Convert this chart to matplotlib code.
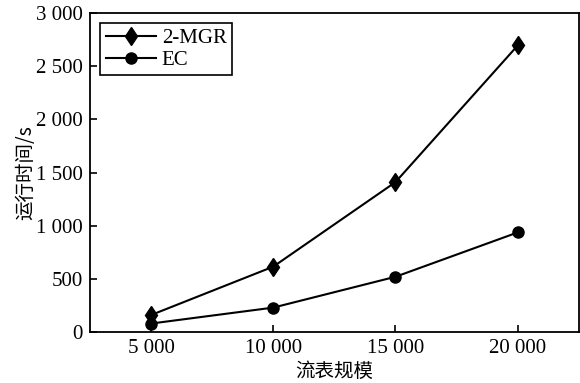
import matplotlib
matplotlib.use("Agg")
import matplotlib.pyplot as plt
from matplotlib.ticker import FuncFormatter

# Data
flow_sizes = [5000, 10000, 15000, 20000]
mgr_time = [160, 615, 1410, 2695]
ec_time = [80, 230, 520, 937]

x_ticks = [5000, 10000, 15000, 20000]
y_ticks = [0, 500, 1000, 1500, 2000, 2500, 3000]

plt.rcParams['font.family'] = ['Liberation Serif', 'Noto Sans CJK SC']


def thousands(v, pos):
    v = int(round(v))
    if v < 1000:
        return str(v)
    return f"{v // 1000}\u2005{v % 1000:03d}"


fig = plt.figure(figsize=(5.8, 3.83), dpi=100)
ax = fig.add_axes([0.155, 0.133, 0.843, 0.833])

ax.plot(flow_sizes, mgr_time, color='black', lw=1.5, marker='d',
        markersize=9.5, label='2-MGR')
ax.plot(flow_sizes, ec_time, color='black', lw=1.5, marker='o',
        markersize=8, label='EC')

ax.set_xlim(2500, 22500)
ax.set_ylim(0, 3000)
ax.set_xticks(x_ticks)
ax.set_yticks(y_ticks)
ax.xaxis.set_major_formatter(FuncFormatter(thousands))
ax.yaxis.set_major_formatter(FuncFormatter(thousands))
ax.tick_params(direction='in', length=5, width=1.2, labelsize=15, pad=5)
for s in ax.spines.values():
    s.set_linewidth(1.3)

ax.set_xlabel('流表规模', family=['Noto Sans CJK SC'], fontsize=14, labelpad=2)
ax.set_ylabel('运行时间/s', family=['Noto Sans CJK SC'], fontsize=14, labelpad=0)

leg = ax.legend(loc='upper left', fontsize=15, fancybox=False, edgecolor='black',
                framealpha=1, borderpad=0.25, handlelength=2.4, labelspacing=0.1,
                handletextpad=0.3, borderaxespad=0.5)
leg.get_frame().set_linewidth(1.2)

fig.savefig('out.png', dpi=100)
